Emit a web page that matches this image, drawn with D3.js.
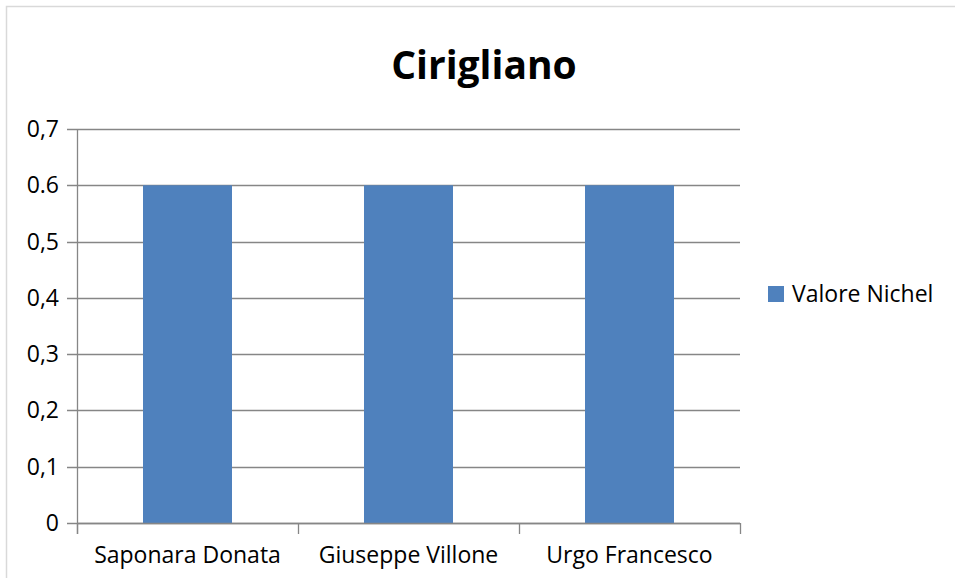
<!DOCTYPE html>
<html>
<head>
<meta charset="utf-8">
<script src="https://cdn.jsdelivr.net/npm/d3@7"></script>
<style>
  body { margin: 0; background: #fff; }
  svg { display: block; font-family: "Open Sans", Calibri, sans-serif; }
</style>
</head>
<body>
<svg width="955" height="578"></svg>
<script>
// dati
var categorie = ["Saponara Donata", "Giuseppe Villone", "Urgo Francesco"];
var valori = [0.6, 0.6, 0.6];
var serie = "Valore Nichel";
var titolo = "Cirigliano";
var tickValori = [0, 0.1, 0.2, 0.3, 0.4, 0.5, 0.6, 0.7];
var tickEtichette = ["0", "0,1", "0,2", "0,3", "0,4", "0,5", "0.6", "0,7"];

var svg = d3.select("svg");
var mSx = 77, mDx = 740, mSu = 129, mGiu = 523;
var grigio = "#868686";
var fs = 23;

// bordo del grafico
svg.append("rect")
  .attr("x", 6.5).attr("y", 6.5)
  .attr("width", 1000).attr("height", 1000)
  .attr("fill", "none").attr("stroke", "#d9d9d9").attr("stroke-width", 1.5);

var x = d3.scaleBand().domain(categorie).range([mSx, mDx]).paddingInner(0).paddingOuter(0);
var y = d3.scaleLinear().domain([0, 0.7]).range([mGiu, mSu]);

// griglia
svg.append("g").selectAll("line")
  .data(tickValori)
  .join("line")
  .attr("x1", mSx - 10).attr("x2", mDx)
  .attr("y1", d => Math.round(y(d)) + 0.5).attr("y2", d => Math.round(y(d)) + 0.5)
  .attr("stroke", grigio).attr("stroke-width", 1.3);

// etichette asse y
svg.append("g").selectAll("text")
  .data(tickValori)
  .join("text")
  .attr("x", 59).attr("y", d => y(d))
  .attr("dy", "0.35em")
  .attr("text-anchor", "end")
  .attr("font-size", fs)
  .attr("fill", "#000")
  .text((d, i) => tickEtichette[i]);

// barre
var barW = 89;
svg.append("g").selectAll("rect")
  .data(valori)
  .join("rect")
  .attr("x", (d, i) => x(categorie[i]) + (x.bandwidth() - barW) / 2)
  .attr("y", d => y(d))
  .attr("width", barW)
  .attr("height", d => y(0) - y(d))
  .attr("fill", "#4f81bd");

// asse y
svg.append("line")
  .attr("x1", mSx + 0.5).attr("x2", mSx + 0.5)
  .attr("y1", mSu).attr("y2", mGiu + 11)
  .attr("stroke", grigio).attr("stroke-width", 1.3);

// asse x e tacche
svg.append("line")
  .attr("x1", mSx).attr("x2", mDx)
  .attr("y1", mGiu + 0.5).attr("y2", mGiu + 0.5)
  .attr("stroke", grigio).attr("stroke-width", 1.5);
var bordi = categorie.map(c => x(c)).concat([mDx]);
svg.append("g").selectAll("line")
  .data(bordi)
  .join("line")
  .attr("x1", d => Math.round(d) + 0.5).attr("x2", d => Math.round(d) + 0.5)
  .attr("y1", mGiu).attr("y2", mGiu + 11)
  .attr("stroke", grigio).attr("stroke-width", 1.3);

// etichette asse x
svg.append("g").selectAll("text")
  .data(categorie)
  .join("text")
  .attr("x", d => x(d) + x.bandwidth() / 2)
  .attr("y", 563)
  .attr("text-anchor", "middle")
  .attr("font-size", fs)
  .attr("fill", "#000")
  .text(d => d);

// titolo
svg.append("text")
  .attr("x", 484).attr("y", 79)
  .attr("text-anchor", "middle")
  .attr("font-size", 39).attr("font-weight", "bold")
  .attr("fill", "#000")
  .text(titolo);

// legenda
svg.append("rect")
  .attr("x", 768).attr("y", 286).attr("width", 16).attr("height", 16)
  .attr("fill", "#4f81bd");
svg.append("text")
  .attr("x", 792).attr("y", 294)
  .attr("dy", "0.35em")
  .attr("font-size", fs)
  .attr("fill", "#000")
  .text(serie);
</script>
</body>
</html>
